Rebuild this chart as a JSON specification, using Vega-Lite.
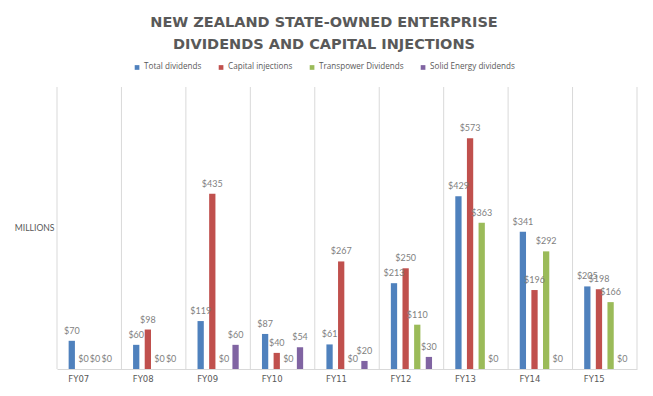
{
  "$schema": "https://vega.github.io/schema/vega-lite/v6.json",
  "width": 580,
  "height": 282,
  "autosize": {"type": "none"},
  "padding": {"left": 57, "top": 87, "right": 16, "bottom": 27},
  "background": "white",
  "title": {
    "text": ["NEW ZEALAND STATE-OWNED ENTERPRISE", "DIVIDENDS AND CAPITAL INJECTIONS"],
    "font": "DejaVu Sans",
    "fontSize": 14.5,
    "fontWeight": "bold",
    "color": "#595959",
    "lineHeight": 22,
    "anchor": "middle",
    "dx": -23,
    "offset": 11
  },
  "config": {
    "view": {"stroke": null},
    "font": "Lato"
  },
  "datasets": {
    "sof": [
      {"fy": "FY07", "series": "Total dividends", "value": 70},
      {"fy": "FY07", "series": "Capital injections", "value": 0},
      {"fy": "FY07", "series": "Transpower Dividends", "value": 0},
      {"fy": "FY07", "series": "Solid Energy dividends", "value": 0},
      {"fy": "FY08", "series": "Total dividends", "value": 60},
      {"fy": "FY08", "series": "Capital injections", "value": 98},
      {"fy": "FY08", "series": "Transpower Dividends", "value": 0},
      {"fy": "FY08", "series": "Solid Energy dividends", "value": 0},
      {"fy": "FY09", "series": "Total dividends", "value": 119},
      {"fy": "FY09", "series": "Capital injections", "value": 435},
      {"fy": "FY09", "series": "Transpower Dividends", "value": 0},
      {"fy": "FY09", "series": "Solid Energy dividends", "value": 60},
      {"fy": "FY10", "series": "Total dividends", "value": 87},
      {"fy": "FY10", "series": "Capital injections", "value": 40},
      {"fy": "FY10", "series": "Transpower Dividends", "value": 0},
      {"fy": "FY10", "series": "Solid Energy dividends", "value": 54},
      {"fy": "FY11", "series": "Total dividends", "value": 61},
      {"fy": "FY11", "series": "Capital injections", "value": 267},
      {"fy": "FY11", "series": "Transpower Dividends", "value": 0},
      {"fy": "FY11", "series": "Solid Energy dividends", "value": 20},
      {"fy": "FY12", "series": "Total dividends", "value": 213},
      {"fy": "FY12", "series": "Capital injections", "value": 250},
      {"fy": "FY12", "series": "Transpower Dividends", "value": 110},
      {"fy": "FY12", "series": "Solid Energy dividends", "value": 30},
      {"fy": "FY13", "series": "Total dividends", "value": 429},
      {"fy": "FY13", "series": "Capital injections", "value": 573},
      {"fy": "FY13", "series": "Transpower Dividends", "value": 363},
      {"fy": "FY13", "series": "Solid Energy dividends", "value": 0},
      {"fy": "FY14", "series": "Total dividends", "value": 341},
      {"fy": "FY14", "series": "Capital injections", "value": 196},
      {"fy": "FY14", "series": "Transpower Dividends", "value": 292},
      {"fy": "FY14", "series": "Solid Energy dividends", "value": 0},
      {"fy": "FY15", "series": "Total dividends", "value": 205},
      {"fy": "FY15", "series": "Capital injections", "value": 198},
      {"fy": "FY15", "series": "Transpower Dividends", "value": 166},
      {"fy": "FY15", "series": "Solid Energy dividends", "value": 0}
    ],
    "years": [
      {"fy": "FY07"}, {"fy": "FY08"}, {"fy": "FY09"}, {"fy": "FY10"}, {"fy": "FY11"},
      {"fy": "FY12"}, {"fy": "FY13"}, {"fy": "FY14"}, {"fy": "FY15"}
    ],
    "last": [{"fy": "FY15"}]
  },
  "layer": [
    {
      "data": {"name": "years"},
      "mark": {"type": "rule", "color": "#d9d9d9", "strokeWidth": 1},
      "encoding": {
        "x": {"field": "fy", "type": "nominal", "bandPosition": 0}
      }
    },
    {
      "data": {"name": "last"},
      "mark": {"type": "rule", "color": "#d9d9d9", "strokeWidth": 1},
      "encoding": {
        "x": {"field": "fy", "type": "nominal", "bandPosition": 1}
      }
    },
    {
      "data": {"name": "sof"},
      "mark": {"type": "bar"},
      "encoding": {
        "x": {
          "field": "fy", "type": "nominal", "sort": null,
          "scale": {"paddingInner": 0, "paddingOuter": 0},
          "axis": {
            "title": null, "labelAngle": 0, "ticks": false, "grid": false,
            "domainColor": "#d9d9d9", "labelColor": "#595959", "labelFont": "DejaVu Sans",
            "labelFontSize": 8.5, "labelPadding": 9
          }
        },
        "xOffset": {
          "field": "series", "type": "nominal",
          "sort": ["Total dividends", "Capital injections", "Transpower Dividends", "Solid Energy dividends"],
          "scale": {"paddingInner": 0.46, "paddingOuter": 1.25}
        },
        "y": {
          "field": "value", "type": "quantitative",
          "scale": {"domain": [0, 700], "nice": false},
          "axis": {
            "title": "MILLIONS", "labels": false, "ticks": false, "domain": false, "grid": false,
            "titleAngle": 0, "titleX": -3, "titleY": 140, "titleAlign": "right", "titleBaseline": "middle",
            "titleFont": "Lato", "titleFontSize": 8.6, "titleFontWeight": "normal", "titleColor": "#595959"
          }
        },
        "color": {
          "field": "series", "type": "nominal",
          "sort": ["Total dividends", "Capital injections", "Transpower Dividends", "Solid Energy dividends"],
          "scale": {
            "domain": ["Total dividends", "Capital injections", "Transpower Dividends", "Solid Energy dividends"],
            "range": ["#4f81bd", "#c0504d", "#9bbb59", "#8064a2"]
          },
          "legend": {
            "title": null, "orient": "none", "direction": "horizontal",
            "legendX": 76, "legendY": -24,
            "symbolType": "square", "symbolSize": 22, "symbolStrokeWidth": 0,
            "labelFont": "Open Sans", "labelFontSize": 8.1, "labelColor": "#595959",
            "columnPadding": 15, "labelOffset": 3
          }
        }
      }
    },
    {
      "data": {"name": "sof"},
      "mark": {"type": "text", "baseline": "bottom", "dy": -5, "font": "Lato", "fontSize": 9, "color": "#7f7f7f"},
      "encoding": {
        "x": {"field": "fy", "type": "nominal"},
        "xOffset": {
          "field": "series", "type": "nominal",
          "sort": ["Total dividends", "Capital injections", "Transpower Dividends", "Solid Energy dividends"]
        },
        "y": {"field": "value", "type": "quantitative"},
        "text": {"field": "value", "type": "quantitative", "format": "$d"}
      }
    }
  ]
}
